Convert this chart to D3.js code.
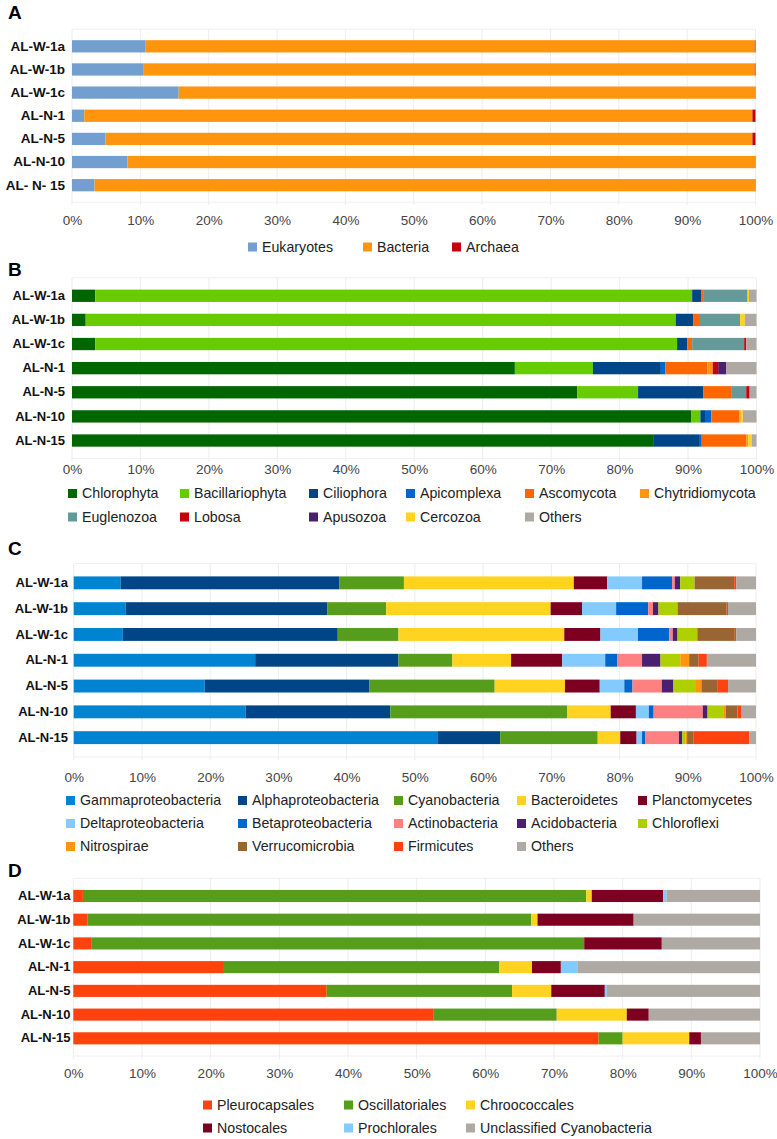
<!DOCTYPE html>
<html>
<head>
<meta charset="utf-8">
<script src="https://cdn.jsdelivr.net/npm/d3@7"></script>
<style>
  body { margin: 0; background: #fff; }
  svg { font-family: "Liberation Sans", Arial, sans-serif; }
</style>
</head>
<body>
<svg id="chart"></svg>
<script>
// sample names (panel A has the odd spacing of the original)
const samplesA = ["AL-W-1a", "AL-W-1b", "AL-W-1c", "AL-N-1", "AL-N-5", "AL-N-10", "AL- N- 15"];
const samples = ["AL-W-1a", "AL-W-1b", "AL-W-1c", "AL-N-1", "AL-N-5", "AL-N-10", "AL-N-15"];
const tickValues = [0, 0.1, 0.2, 0.3, 0.4, 0.5, 0.6, 0.7, 0.8, 0.9, 1];

// A - domains
const keysA = ["Eukaryotes", "Bacteria", "Archaea"];
const colorsA = ["#729fcf", "#ff950e", "#c5000b"];
const eukaryotes = [10.7, 10.5, 15.6, 1.8, 4.9, 8.1, 3.3];
const bacteria = [89.2, 89.4, 84.3, 97.8, 94.7, 91.9, 96.6];
const archaea = [0.1, 0.1, 0.05, 0.45, 0.45, 0.05, 0.05];

// B - eukaryotic phyla
const keysB = ["Chlorophyta", "Bacillariophyta", "Ciliophora", "Apicomplexa", "Ascomycota", "Chytridiomycota",
  "Euglenozoa", "Lobosa", "Apusozoa", "Cercozoa", "Others"];
const colorsB = ["#006600", "#66cc00", "#004586", "#0066cc", "#ff6600", "#ff950e",
  "#669999", "#c5000b", "#4b1f6f", "#ffd320", "#afa9a3"];
const chlorophyta = [3.4, 2.0, 3.4, 64.7, 73.8, 90.5, 84.9];
const bacillariophyta = [87.2, 86.2, 85.0, 11.4, 8.9, 1.3, 0];
const ciliophora = [1.3, 2.6, 1.5, 9.8, 9.5, 0.8, 6.7];
const apicomplexa = [0, 0, 0, 0.8, 0, 0.8, 0.4];
const ascomycota = [0.3, 0.8, 0.7, 6.1, 4.2, 4.1, 6.5];
const chytridiomycota = [0, 0, 0, 0.8, 0, 0.2, 0.3];
const euglenozoa = [6.5, 6.0, 7.6, 0, 2.1, 0, 0];
const lobosa = [0, 0, 0.3, 0.8, 0.5, 0, 0];
const apusozoa = [0, 0, 0, 1.2, 0, 0, 0];
const cercozoa = [0.2, 0.7, 0, 0, 0, 0.3, 0.5];
const othersB = [1.1, 1.7, 1.5, 4.4, 1.0, 2.0, 0.7];

// C - bacterial phyla / classes
const keysC = ["Gammaproteobacteria", "Alphaproteobacteria", "Cyanobacteria", "Bacteroidetes", "Planctomycetes",
  "Deltaproteobacteria", "Betaproteobacteria", "Actinobacteria", "Acidobacteria", "Chloroflexi",
  "Nitrospirae", "Verrucomicrobia", "Firmicutes", "Others"];
const colorsC = ["#0084d1", "#004586", "#579d1c", "#ffd320", "#7e0021",
  "#83caff", "#0066cc", "#ff8080", "#4b1f6f", "#aecf00",
  "#ff950e", "#996633", "#ff420e", "#afa9a3"];
const gammaproteobacteria = [6.9, 7.6, 7.2, 26.6, 19.2, 25.2, 53.4];
const alphaproteobacteria = [32.0, 29.6, 31.5, 21.0, 24.1, 21.2, 9.1];
const cyanobacteria = [9.5, 8.6, 8.9, 7.9, 18.4, 25.9, 14.3];
const bacteroidetes = [24.9, 24.1, 24.3, 8.6, 10.3, 6.4, 3.3];
const planctomycetes = [4.9, 4.6, 5.3, 7.5, 5.1, 3.7, 2.4];
const deltaproteobacteria = [5.1, 5.0, 5.5, 6.3, 3.6, 1.9, 0.8];
const betaproteobacteria = [4.4, 4.7, 4.6, 1.8, 1.2, 0.7, 0.5];
const actinobacteria = [0.4, 0.7, 0.5, 3.6, 4.3, 7.2, 4.9];
const acidobacteria = [0.8, 0.8, 0.7, 2.7, 1.7, 0.7, 0.5];
const chloroflexi = [2.1, 2.8, 2.9, 2.9, 3.3, 2.4, 0.5];
const nitrospirae = [0, 0, 0, 1.3, 0.8, 0.3, 0.2];
const verrucomicrobia = [5.8, 7.2, 5.5, 1.4, 2.4, 1.7, 0.9];
const firmicutes = [0.3, 0.2, 0.2, 1.2, 1.5, 0.5, 8.2];
const othersC = [2.9, 4.1, 2.9, 7.2, 4.1, 2.2, 1.0];

// D - cyanobacterial orders
const keysD = ["Pleurocapsales", "Oscillatoriales", "Chroococcales", "Nostocales", "Prochlorales", "Unclassified Cyanobacteria"];
const colorsD = ["#ff420e", "#579d1c", "#ffd320", "#7e0021", "#83caff", "#afa9a3"];
const pleurocapsales = [1.4, 2.1, 2.6, 21.8, 36.9, 52.5, 76.5];
const oscillatoriales = [73.3, 64.6, 71.8, 40.2, 27.0, 17.9, 3.5];
const chroococcales = [0.8, 0.9, 0, 4.8, 5.7, 10.2, 9.7];
const nostocales = [10.4, 14.0, 11.3, 4.2, 7.8, 3.2, 1.7];
const prochlorales = [0.5, 0, 0, 2.4, 0.3, 0, 0];
const unclassified = [13.6, 18.4, 14.3, 26.6, 22.3, 16.2, 8.6];

const svg = d3.select("#chart").attr("width", 777).attr("height", 1139);

// build a table of rows {sample, key: value...}
function makeTable(names, keys, series) {
  return names.map((name, i) => {
    const row = {sample: name};
    keys.forEach((k, j) => row[k] = series[j][i]);
    return row;
  });
}

function drawPanel(p) {
  const g = svg.append("g");
  const table = makeTable(p.names, p.keys, p.series);
  const stacked = d3.stack().keys(p.keys).offset(d3.stackOffsetExpand)(table);

  const x = d3.scaleLinear().domain([0, 1]).range([p.left, p.right]);
  const y = d3.scaleBand().domain(p.names).range([p.top, p.bottom]).padding(p.padding);
  const color = d3.scaleOrdinal().domain(p.keys).range(p.colors);

  // panel letter
  g.append("text")
    .attr("x", 8).attr("y", p.letterY)
    .attr("font-size", 19).attr("font-weight", "bold")
    .text(p.letter);

  // gridlines
  g.selectAll(".grid")
    .data(tickValues)
    .enter().append("line")
    .attr("x1", d => x(d)).attr("x2", d => x(d))
    .attr("y1", p.top).attr("y2", p.bottom + 3)
    .attr("stroke", "#ededf2");
  g.append("line")
    .attr("x1", x(0)).attr("x2", x(1))
    .attr("y1", p.top).attr("y2", p.top)
    .attr("stroke", "#eef0f6");
  g.append("line")
    .attr("x1", x(0)).attr("x2", x(1))
    .attr("y1", p.bottom).attr("y2", p.bottom)
    .attr("stroke", "#eef0f6");

  // bars
  g.selectAll(".series")
    .data(stacked)
    .enter().append("g")
    .attr("fill", d => color(d.key))
    .selectAll("rect")
    .data(d => d)
    .enter().append("rect")
    .attr("x", d => x(d[0]))
    .attr("y", d => y(d.data.sample))
    .attr("width", d => Math.max(0, x(d[1]) - x(d[0])))
    .attr("height", y.bandwidth());

  // x axis
  const xAxis = g.append("g")
    .attr("transform", `translate(0,${p.tickY})`)
    .call(d3.axisBottom(x).tickValues(tickValues).tickFormat(d3.format(".0%")).tickSize(0).tickPadding(0));
  xAxis.select(".domain").remove();
  xAxis.selectAll("text")
    .attr("dy", "0.35em")
    .attr("font-size", 13.5)
    .attr("font-family", "Liberation Sans, Arial, sans-serif")
    .attr("fill", "#444");

  // y axis
  const yAxis = g.append("g")
    .attr("transform", `translate(${p.left},0)`)
    .call(d3.axisLeft(y).tickSize(0).tickPadding(p.left - p.labelRight));
  yAxis.select(".domain").remove();
  yAxis.selectAll("text")
    .attr("font-size", p.labelSize)
    .attr("font-weight", "bold")
    .attr("font-family", "Liberation Sans, Arial, sans-serif")
    .attr("fill", "#111");

  // legend
  const legend = g.selectAll(".legend")
    .data(p.keys)
    .enter().append("g")
    .attr("transform", (d, i) => `translate(${p.legendCols[i % p.legendCols.length]},${p.legendY + Math.floor(i / p.legendCols.length) * p.legendStep})`);

  legend.append("rect")
    .attr("x", -14).attr("y", -4.5)
    .attr("width", 9).attr("height", 9)
    .attr("fill", d => color(d));

  legend.append("text")
    .attr("x", 0).attr("y", 0)
    .attr("dy", "0.35em")
    .attr("font-size", 14.2)
    .attr("fill", "#222")
    .text(d => d);
}

drawPanel({
  letter: "A", letterY: 19, names: samplesA, keys: keysA, colors: colorsA,
  series: [eukaryotes, bacteria, archaea],
  left: 72, right: 755.5, top: 29.3, bottom: 202.2, padding: 0.47,
  labelRight: 65, labelSize: 13.5, tickY: 220,
  legendCols: [262, 377, 466], legendY: 247, legendStep: 23
});

drawPanel({
  letter: "B", letterY: 276, names: samples, keys: keysB, colors: colorsB,
  series: [chlorophyta, bacillariophyta, ciliophora, apicomplexa, ascomycota, chytridiomycota,
    euglenozoa, lobosa, apusozoa, cercozoa, othersB],
  left: 72, right: 756.5, top: 277.8, bottom: 458.5, padding: 0.49,
  labelRight: 65, labelSize: 13, tickY: 469,
  legendCols: [82, 194, 323, 420, 539, 654], legendY: 493.5, legendStep: 23.5
});

drawPanel({
  letter: "C", letterY: 555, names: samples, keys: keysC, colors: colorsC,
  series: [gammaproteobacteria, alphaproteobacteria, cyanobacteria, bacteroidetes, planctomycetes,
    deltaproteobacteria, betaproteobacteria, actinobacteria, acidobacteria, chloroflexi,
    nitrospirae, verrucomicrobia, firmicutes, othersC],
  left: 73.7, right: 756, top: 563.5, bottom: 757, padding: 0.5,
  labelRight: 68, labelSize: 13, tickY: 777.5,
  legendCols: [80, 252, 408, 531, 652], legendY: 800.5, legendStep: 23
});

drawPanel({
  letter: "D", letterY: 877, names: samples, keys: keysD, colors: colorsD,
  series: [pleurocapsales, oscillatoriales, chroococcales, nostocales, prochlorales, unclassified],
  left: 73.3, right: 760, top: 878.3, bottom: 1056, padding: 0.49,
  labelRight: 70.5, labelSize: 13, tickY: 1073,
  legendCols: [217, 358, 480], legendY: 1105, legendStep: 23
});
</script>
</body>
</html>
